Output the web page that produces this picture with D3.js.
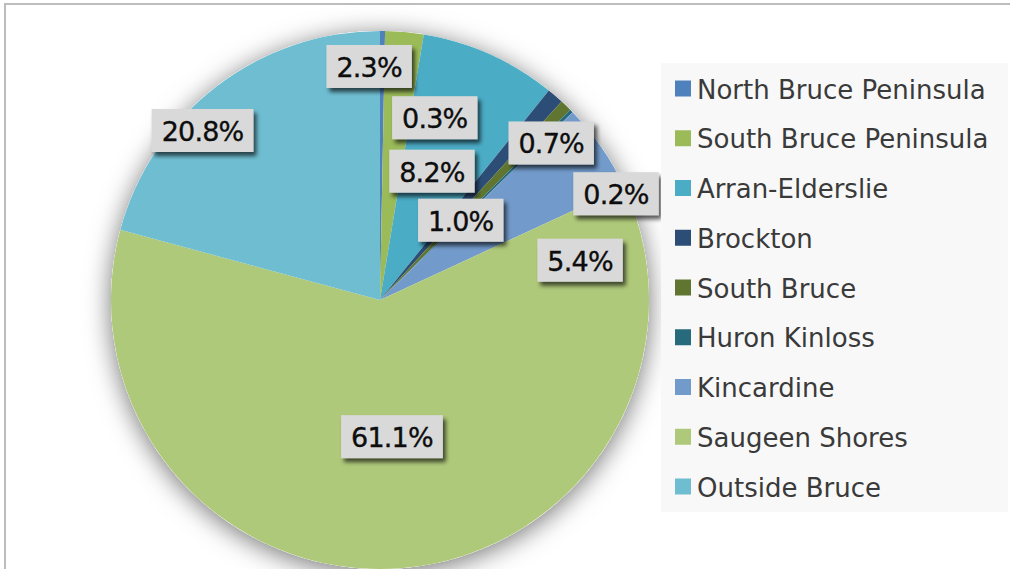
<!DOCTYPE html>
<html>
<head>
<meta charset="utf-8">
<script src="https://cdn.jsdelivr.net/npm/d3@7"></script>
<style>
  html, body { margin: 0; padding: 0; background: #ffffff; }
  svg { display: block; }
</style>
</head>
<body>
<svg id="chart" width="1010" height="569"></svg>
<script>
// ---- Data ----
const categories = [
  "North Bruce Peninsula", "South Bruce Peninsula", "Arran-Elderslie",
  "Brockton", "South Bruce", "Huron Kinloss", "Kincardine",
  "Saugeen Shores", "Outside Bruce"
];
const shares = [0.3, 2.3, 8.2, 1.0, 0.7, 0.2, 5.4, 61.1, 20.8];
const labelTexts = ["0.3%", "2.3%", "8.2%", "1.0%", "0.7%", "0.2%", "5.4%", "61.1%", "20.8%"];

// ---- Styles / layout ----
const colors = ["#4f81bd", "#9bbb59", "#4bacc6", "#2c4d75", "#5f7530",
                "#276a7c", "#729aca", "#afc97a", "#6fbdd1"];
// label nudges relative to the arc centroid (Excel-style manual placement)
const labelNudge = [[53, 6], [-28, -46], [-25, 43], [-42, 63], [41, -21],
                    [102, 26], [45, 67], [-4, -51], [-63, -20]];

const W = 1010, H = 569;
const cx = 380, cy = 300, R = 269;

const svg = d3.select("#chart");
const defs = svg.append("defs");

const pieShadow = defs.append("filter").attr("id", "pieShadow")
  .attr("x", "-30%").attr("y", "-30%").attr("width", "160%").attr("height", "160%");
pieShadow.append("feDropShadow").attr("dx", 0).attr("dy", 4)
  .attr("stdDeviation", 13).attr("flood-color", "#000").attr("flood-opacity", 0.55);

const lblShadow = defs.append("filter").attr("id", "lblShadow")
  .attr("x", "-20%").attr("y", "-30%").attr("width", "150%").attr("height", "180%");
lblShadow.append("feDropShadow").attr("dx", 3).attr("dy", 4)
  .attr("stdDeviation", 2.2).attr("flood-color", "#000").attr("flood-opacity", 0.65);

// background + frame
svg.append("rect").attr("x", 0).attr("y", 0).attr("width", W).attr("height", H).attr("fill", "#fff");
svg.append("path")
  .attr("d", `M5,${H} L5,4 L${W},4`)
  .attr("fill", "none").attr("stroke", "#bdbdbd").attr("stroke-width", 2);

// ---- Pie ----
const pie = d3.pie().value(d => d).sort(null);
const arcs = pie(shares);
const arc = d3.arc().innerRadius(0).outerRadius(R);
const labelArc = d3.arc().innerRadius(R * 0.7).outerRadius(R * 0.7);

const g = svg.append("g").attr("transform", `translate(${cx},${cy})`);

g.append("circle").attr("r", R).attr("fill", "#ffffff").attr("filter", "url(#pieShadow)");

g.selectAll("path.slice")
  .data(arcs)
  .enter().append("path")
  .attr("class", "slice")
  .attr("d", arc)
  .attr("fill", (d, i) => colors[i]);

// ---- Labels ----
const lbl = g.selectAll("g.lbl")
  .data(arcs)
  .enter().append("g")
  .attr("class", "lbl")
  .attr("transform", (d, i) => {
    const c = labelArc.centroid(d);
    return `translate(${c[0] + labelNudge[i][0]},${c[1] + labelNudge[i][1]})`;
  });

lbl.each(function(d, i) {
  const sel = d3.select(this);
  const rect = sel.append("rect").attr("fill", "#d9d9d9").attr("filter", "url(#lblShadow)");
  const t = sel.append("text")
    .attr("text-anchor", "middle")
    .attr("dominant-baseline", "central")
    .attr("font-family", "'DejaVu Sans', sans-serif")
    .attr("font-size", 27)
    .attr("letter-spacing", -0.8)
    .attr("fill", "#0d0d0d")
    .attr("stroke", "#0d0d0d")
    .attr("stroke-width", 0.35)
    .attr("y", 1)
    .text(labelTexts[i]);
  const w = t.node().getComputedTextLength() + 20;
  const h = 43;
  rect.attr("x", -w / 2).attr("y", -h / 2).attr("width", w).attr("height", h);
});

// ---- Legend ----
const legend = svg.append("g");
legend.append("rect")
  .attr("x", 661).attr("y", 63).attr("width", 347).attr("height", 449)
  .attr("fill", "#f8f8f8");

const ly = d3.scalePoint().domain(categories).range([88.5, 486.5]);

const items = legend.selectAll("g.item")
  .data(categories)
  .enter().append("g")
  .attr("class", "item")
  .attr("transform", d => `translate(0,${ly(d)})`);

items.append("rect")
  .attr("x", 675).attr("y", -8).attr("width", 16).attr("height", 16)
  .attr("fill", (d, i) => colors[i]);

items.append("text")
  .attr("x", 697).attr("y", 10)
  .attr("font-family", "'DejaVu Sans', sans-serif")
  .attr("font-size", 26)
  .attr("fill", "#3a3a3a")
  .text(d => d);
</script>
</body>
</html>
